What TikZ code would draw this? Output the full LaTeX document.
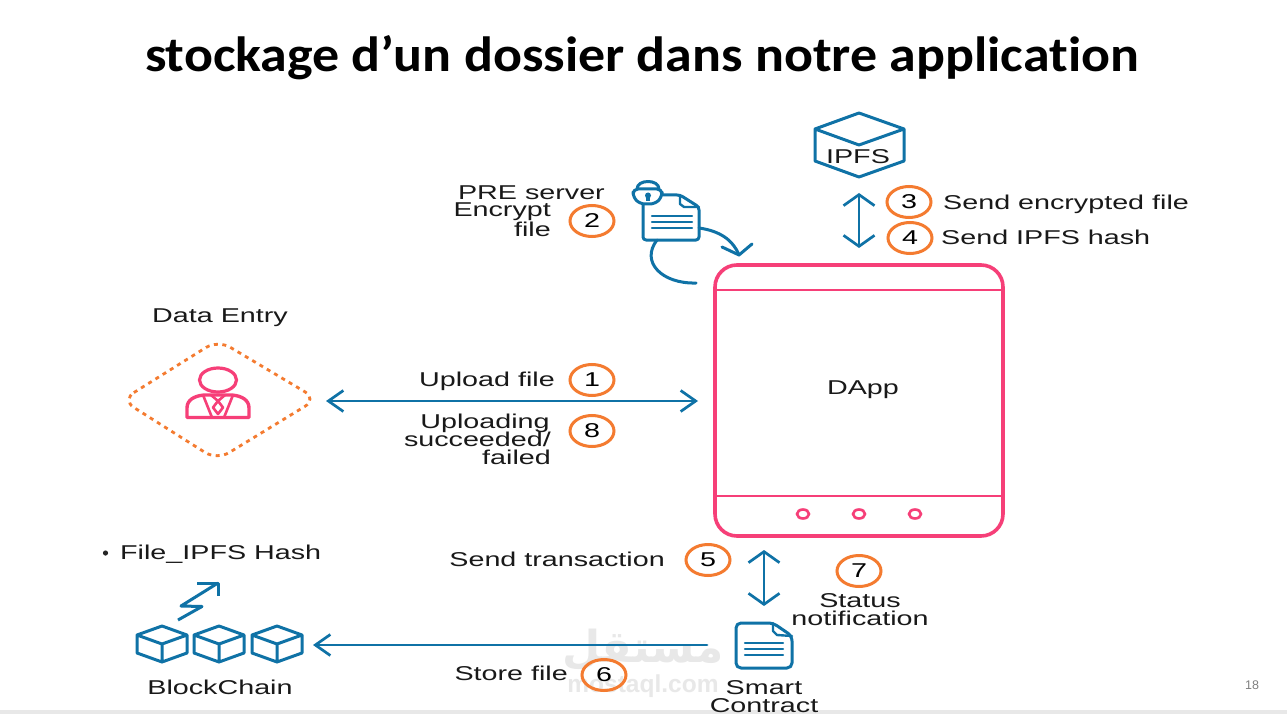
\documentclass[tikz,border=0pt]{standalone}
\usepackage{fontspec}
\setmainfont{Liberation Sans}
\newfontfamily\labelfont[FakeStretch=1.435]{Liberation Sans}
\newfontfamily\titlefont[FakeStretch=1.09,Ligatures={NoCommon,NoRequired,NoContextual}]{Carlito}
\newfontfamily\arabicfont[Script=Arabic]{DejaVu Sans}
\TeXXeTstate=1
\usetikzlibrary{arrows.meta,shapes.geometric}
\definecolor{pinkc}{HTML}{F63F78}
\definecolor{bluec}{HTML}{0F72A6}
\definecolor{orangec}{HTML}{F47B30}
\definecolor{markc}{HTML}{E8E8E8}
\tikzset{
 x=1pt,y=-1pt,
 chevv/.tip={Straight Barb[length=11pt,width=31pt,line width=2.7pt]},
 chevh/.tip={Straight Barb[length=15pt,width=21pt,line width=2.7pt]},
 lab/.style={font=\labelfont\fontsize{20}{18}\selectfont,text=black!90,inner sep=0pt,yshift=-2pt},
 numc/.style={ellipse,draw=orangec,line width=3pt,minimum width=44pt,minimum height=31pt,inner sep=0pt,font=\labelfont\fontsize{20}{20}\selectfont},
 blue line/.style={draw=bluec,line width=3pt,line join=round,line cap=round},
 pink line/.style={draw=pinkc,line width=3.4pt,line join=round},
 linkv/.style={blue line,line width=2.7pt,{chevv}-{chevv}},
 linkh/.style={blue line,line width=2.7pt,{chevh}-{chevh}},
 linkone/.style={blue line,line width=2.7pt,-{chevh}},
}
\begin{document}
\begin{tikzpicture}
\useasboundingbox (0,0) rectangle (1287,714);
\fill[white] (0,0) rectangle (1287,714);
\fill[markc] (0,710) rectangle (1287,714);
% watermark
\node[font=\arabicfont\bfseries\fontsize{44}{44}\selectfont,text=markc,inner sep=0pt] (wmar) at (643,650) {\beginR مستقل\endR};
\node[font=\bfseries\fontsize{24.5}{24}\selectfont,text=markc,inner sep=0pt] (wmla) at (643,686) {mostaql.com};
% title
\node[font=\titlefont\bfseries\fontsize{49.5}{50}\selectfont,inner sep=0pt] (title) at (642,58) {stockage d’un dossier dans notre application};
\node[font=\fontsize{12.5}{13}\selectfont,text=black!50,inner sep=0pt] (pageno) at (1252,685) {18};
% phone
\node[draw=pinkc,line width=3.6pt,rounded corners=22pt,minimum width=288pt,minimum height=271pt,inner sep=0pt] (phone) at (859,400.5) {};
\coordinate (pa) at (715,290); \coordinate (pb) at (1003,290);
\coordinate (pc) at (715,496); \coordinate (pd) at (1003,496);
\draw[draw=pinkc,line width=2.4pt] (pa) -- (pb) (pc) -- (pd);
\foreach \n/\xx in {d1/803,d2/859,d3/915}
  \node[ellipse,draw=pinkc,line width=2.6pt,minimum width=12pt,minimum height=9pt,inner sep=0pt] (\n) at (\xx,514) {};
\node[lab] (dapp) at (863,388) {DApp};
% IPFS cube
\coordinate (it) at (859,113); \coordinate (irt) at (904,129); \coordinate (irb) at (904,161);
\coordinate (ib) at (859,177); \coordinate (ilb) at (815,161); \coordinate (ilt) at (815,129);
\coordinate (ic) at (859,145);
\draw[blue line] (it) -- (irt) -- (irb) -- (ib) -- (ilb) -- (ilt) -- cycle (ilt) -- (ic) -- (irt);
\node[lab] (ipfs) at (858,154.5) {IPFS};
\coordinate (ia) at (859,193); \coordinate (ie) at (859,248);
\draw[linkv] (ia) -- (ie);
\node[numc] (n3) at (909,202) {3};
\node[numc] (n4) at (910,238) {4};
\node[lab,anchor=west] (t3) at (943,202) {Send encrypted file};
\node[lab,anchor=west] (t4) at (941,235) {Send IPFS hash};
% encrypted doc
\draw[blue line,fill=white,rounded corners=3pt] (643,195) -- (680,195) -- (699,207) -- (699,240) -- (643,240) -- cycle;
\draw[blue line,line width=2.4pt] (680,195) -- (680,204) -- (684,207) -- (699,207);
\draw[blue line] (637,189) .. controls (637,179) and (659,179) .. (659,189);
\draw[blue line,fill=white,rounded corners=5pt] (633,189) -- (662,189) -- (662,197) -- (655,204) -- (640,204) -- (633,197) -- cycle;
\fill[bluec] (648,195.5) circle (3pt);
\fill[bluec] (646.4,196) rectangle (649.6,201);
\foreach \yy in {216,222,228}
  \draw[blue line,line width=2.2pt] (652,\yy) -- (692,\yy);
\coordinate (ca) at (699,228); \coordinate (cb) at (739,255);
\coordinate (cc) at (657,240); \coordinate (cd) at (696,283);
\draw[blue line] (ca) .. controls (720,231) and (733,240) .. (cb);
\draw[blue line] (722,247) -- (cb) -- (752,244);
\draw[blue line] (cc) .. controls (640,262) and (662,284) .. (cd);
\node[lab,anchor=east] (t2a) at (605,191) {PRE server};
\node[lab,anchor=north east,align=right] (t2b) at (551,201) {Encrypt\\file};
\node[numc] (n2) at (592,221) {2};
% Data Entry
\node[lab] (entry) at (220,316) {Data Entry};
\coordinate (da) at (122,400); \coordinate (db) at (218,340); \coordinate (dc) at (317,399); \coordinate (dd) at (217,460);
\draw[draw=orangec,line width=2.8pt,dash pattern=on 4pt off 4.5pt,rounded corners=14pt] (da) -- (db) -- (dc) -- (dd) -- cycle;
\node[ellipse,draw=pinkc,line width=3.2pt,minimum width=37pt,minimum height=24pt,inner sep=0pt] (head) at (218,380) {};
\draw[pink line] (187,417.5) -- (187,408) .. controls (187,400) and (194,396) .. (204,395) -- (232,395) .. controls (242,396) and (249,400) .. (249,408) -- (249,417.5) -- cycle;
\draw[pink line,line width=2.6pt] (203,395) -- (212,417.5) (233,395) -- (224,417.5) (211,395) -- (218,401) -- (225,395);
\draw[pink line,line width=2.6pt] (218,401) -- (223,407.5) -- (218,414) -- (213,407.5) -- cycle;
% upload arrow
\coordinate (ua) at (326,401); \coordinate (ub) at (698,401);
\draw[linkh] (ua) -- (ub);
\node[lab,anchor=east] (t1) at (555,379) {Upload file};
\node[numc] (n1) at (592,380) {1};
\node[lab,anchor=north,align=center] (t8a) at (485,412) {Uploading};
\node[lab,anchor=north east] (t8b) at (551,430) {succeeded/};
\node[lab,anchor=north east] (t8c) at (551,448) {failed};
\node[numc] (n8) at (592,431) {8};
% transaction arrow
\coordinate (sa) at (764,550); \coordinate (sb) at (764,606);
\draw[linkv] (sa) -- (sb);
\node[lab,anchor=east] (t5) at (665,557) {Send transaction};
\node[numc] (n5) at (708,560) {5};
\node[numc] (n7) at (859,571) {7};
\node[lab] (t7a) at (860,599) {Status};
\node[lab] (t7b) at (860,616) {notification};
% smart contract
\draw[blue line,rounded corners=5pt] (736,623) -- (773,623) -- (792,636) -- (792,668) -- (736,668) -- cycle;
\draw[blue line,line width=2.4pt] (773,623) -- (773,631) -- (777,635) -- (792,636);
\foreach \yy in {643,649,655}
  \draw[blue line,line width=2.2pt] (745,\yy) -- (783,\yy);
\node[lab] (t9a) at (764,686) {Smart};
\node[lab] (t9b) at (764,704) {Contract};
% chain arrow
\coordinate (ch) at (707,645); \coordinate (bc) at (313,645);
\draw[linkone] (ch) -- (bc);
\node[lab,anchor=east] (t6) at (568,671) {Store file};
\node[numc] (n6) at (604,675) {6};
% blockchain
\foreach \xx in {162,219,277}{
  \draw[blue line] (\xx,626) -- (\xx+25,635) -- (\xx+25,653) -- (\xx,662) -- (\xx-25,653) -- (\xx-25,635) -- cycle
    (\xx-25,635) -- (\xx,644) -- (\xx+25,635) (\xx,644) -- (\xx,662);
}
\draw[blue line,line cap=butt] (178,620) -- (202,606.5) -- (181,606) -- (218,583);
\draw[blue line,line cap=butt] (197,583) -- (218,583) -- (218,596);
\node[lab] (chain) at (220,685) {BlockChain};
\node[lab,anchor=west] (hash) at (120,552) {File\_IPFS Hash};
\fill[black!85] (105.5,553) circle (2.6pt);
\end{tikzpicture}
\end{document}
